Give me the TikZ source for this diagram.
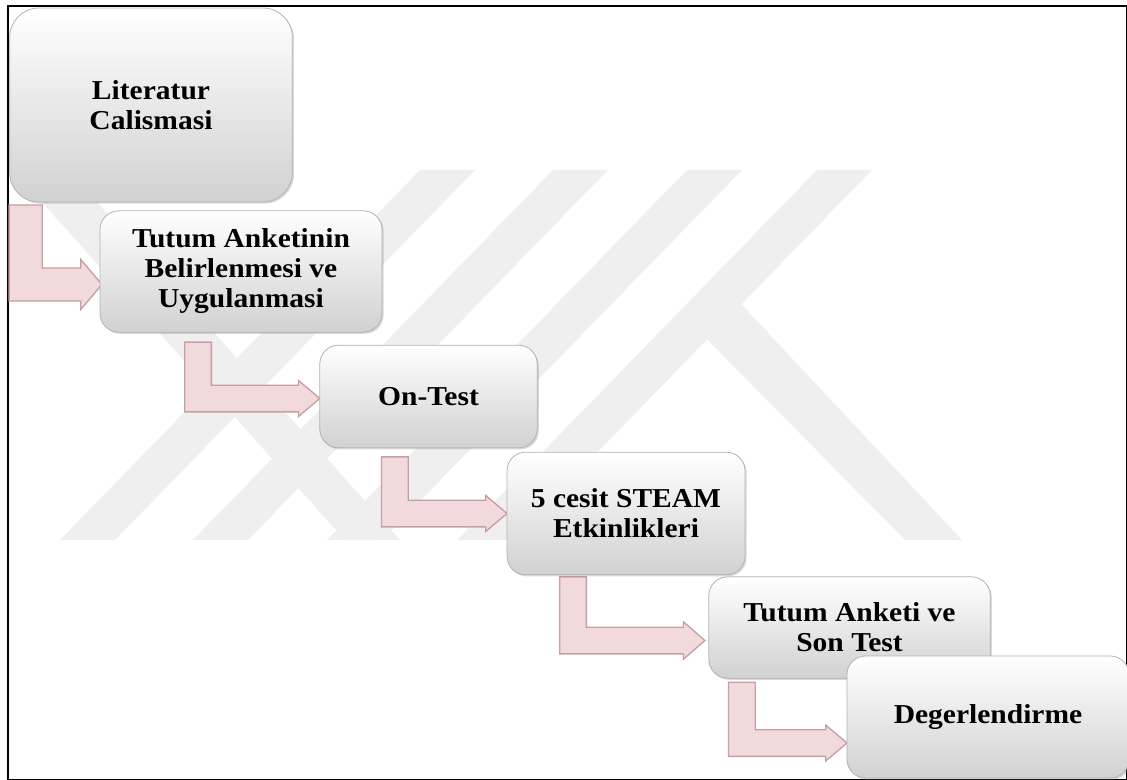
\documentclass[tikz,border=0pt]{standalone}
\usepackage{fontspec}
\setmainfont{Liberation Serif}
\newfontfamily\stepfont[FakeStretch=1.08]{Liberation Serif}
\usetikzlibrary{calc,shadows,backgrounds}

\definecolor{arrowfill}{RGB}{242,218,220}
\definecolor{arrowedge}{RGB}{198,158,163}
\definecolor{markgray}{RGB}{239,239,239}

% bent arrow: shaft half width, head half width, from, to
\newcommand{\bendarrow}[4]{%
  \fill[arrowfill,draw=arrowedge,line width=1pt,line join=miter]
    let \p1=(#3), \p2=(#4) in
    (\x1-#1,\y1) -- (\x1-#1,\y2-#1) -- (\x2-16pt,\y2-#1) -- (\x2-16pt,\y2-#2)
    -- (\x2,\y2) -- (\x2-16pt,\y2+#2) -- (\x2-16pt,\y2+#1) -- (\x1+#1,\y2+#1)
    -- (\x1+#1,\y1) -- cycle;}

\tikzset{
  stepbox/.style={draw=black!30, line width=0.6pt, rounded corners=14pt,
    top color=white, middle color=black!4, bottom color=black!18,
    align=center, inner sep=2pt, outer sep=0pt,
    font=\stepfont\bfseries\fontsize{20.5}{22.5}\selectfont,
    drop shadow={shadow xshift=1.2pt, shadow yshift=-1.2pt, opacity=0.3}},
}

\begin{document}
\begin{tikzpicture}[x=0.75pt,y=-0.75pt]
\useasboundingbox (0,0) rectangle (1127,780);
\clip (0,0) rectangle (1127,780);

% steps
\node[stepbox, rounded corners=22pt, minimum width=212pt, minimum height=145.5pt] (lit) at (151,105) {Literatur\\Calismasi};
\node[stepbox, minimum width=211.5pt, minimum height=91pt] (tutum) at (241,271.5) {Tutum Anketinin\\Belirlenmesi ve\\Uygulanmasi};
\node[stepbox, minimum width=163pt, minimum height=77pt] (ontest) at (428.5,396.5) {On-Test};
\node[stepbox, minimum width=178.5pt, minimum height=92pt] (steam) at (626,513.5) {5 cesit STEAM\\Etkinlikleri};
\node[stepbox, minimum width=211pt, minimum height=76pt] (sontest) at (849.5,627.5) {Tutum Anketi ve\\Son Test};
\node[stepbox, minimum width=211.5pt, minimum height=91.5pt] (degerl) at (988,717) {Degerlendirme};

\begin{scope}[on background layer]
% faint logo behind
\fill[markgray] (420,170) -- (475,170) -- (115,540) -- (60,540) -- cycle;
\fill[markgray] (553,170) -- (608,170) -- (248,540) -- (193,540) -- cycle;
\fill[markgray] (687,170) -- (742,170) -- (382,540) -- (327,540) -- cycle;
\fill[markgray] (817,170) -- (872,170) -- (512,540) -- (457,540) -- cycle;
\fill[markgray] (690,322) -- (728,290) -- (962,540) -- (905,540) -- cycle;
\fill[markgray] (40,200) -- (95,200) -- (400,540) -- (345,540) -- cycle;
% frame
\draw[line width=1.5pt] (8,6) rectangle (1127,780);
% connectors
\bendarrow{12.4pt}{18.8pt}{$(lit.south west)+(16,3)$}{$(tutum.west)+(2,13)$}
\bendarrow{10pt}{13.5pt}{$(tutum.south west)+(98,10)$}{$(ontest.west)+(0,2)$}
\bendarrow{10pt}{13.5pt}{$(ontest.south west)+(75,9)$}{steam.west}
\bendarrow{10pt}{14pt}{$(steam.south west)+(66,2)$}{$(sontest.west)+(-4,13)$}
\bendarrow{10pt}{13.5pt}{$(sontest.south west)+(33,4)$}{$(degerl.west)+(0,26)$}
\end{scope}
\end{tikzpicture}
\end{document}
